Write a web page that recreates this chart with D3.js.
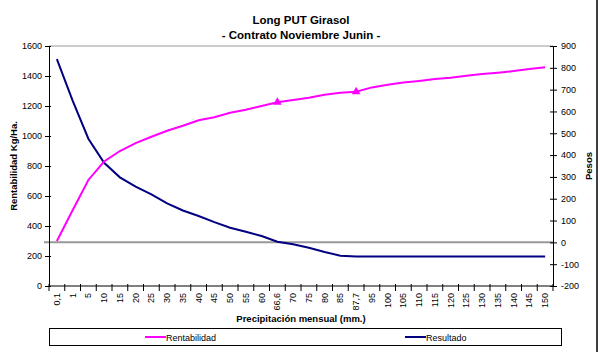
<!DOCTYPE html>
<html>
<head>
<meta charset="utf-8">
<script src="https://cdn.jsdelivr.net/npm/d3@7"></script>
<style>
  body { margin: 0; background: #fff; }
  svg text { font-family: "Liberation Sans", Arial, sans-serif; }
</style>
</head>
<body>
<div id="chart"></div>
<script>
// Chart data
var categories = ["0,1", "1", "5", "10", "15", "20", "25", "30", "35", "40", "45", "50", "55", "60",
  "66,6", "70", "75", "80", "85", "87,7", "95", "100", "105", "110", "115", "120", "125", "130",
  "135", "140", "145", "150"];
var rentabilidad = [300, 505, 707, 830, 900, 953, 995, 1035, 1068, 1105, 1125, 1155, 1175, 1200,
  1225, 1240, 1255, 1275, 1289, 1295, 1324, 1342, 1356, 1367, 1380, 1388, 1402, 1413, 1422, 1433,
  1447, 1458];
var resultado = [840, 650, 475, 365, 298, 255, 220, 179, 146, 121, 93, 67, 49, 29,
  3, -9, -25, -44, -61, -65, -65, -65, -65, -65, -65, -65, -65, -65, -65, -65, -65, -65];
var markerCats = ["66,6", "87,7"];
var leftTicks = [0, 200, 400, 600, 800, 1000, 1200, 1400, 1600];
var rightTicks = [-200, -100, 0, 100, 200, 300, 400, 500, 600, 700, 800, 900];

var svgWidth = 600;
var svgHeight = 352;

// Plot area edges
var plot = { left: 49, right: 553, top: 46, bottom: 286 };

var svg = d3.select("#chart")
  .append("svg")
  .attr("width", svgWidth)
  .attr("height", svgHeight);

// Scales
var xScale = d3.scaleBand()
  .domain(categories)
  .range([plot.left, plot.right])
  .padding(0);

var yLeft = d3.scaleLinear()
  .domain([0, 1600])
  .range([plot.bottom, plot.top]);

var yRight = d3.scaleLinear()
  .domain([-200, 900])
  .range([plot.bottom, plot.top]);

var xMid = d => xScale(d) + xScale.bandwidth() / 2;

// Titles
svg.append("text")
  .attr("x", 301).attr("y", 24)
  .attr("text-anchor", "middle")
  .attr("font-size", 11.5).attr("font-weight", "bold")
  .text("Long PUT Girasol");

svg.append("text")
  .attr("x", 301).attr("y", 39)
  .attr("text-anchor", "middle")
  .attr("font-size", 11.5).attr("font-weight", "bold")
  .text("- Contrato Noviembre Junin -");

// Grey top line of plot area
svg.append("line")
  .attr("x1", plot.left).attr("x2", plot.right)
  .attr("y1", plot.top).attr("y2", plot.top)
  .attr("stroke", "#999").attr("stroke-width", 1);

// Grey zero line of the right axis
svg.append("line")
  .attr("x1", 44).attr("x2", plot.right)
  .attr("y1", yRight(0)).attr("y2", yRight(0))
  .attr("stroke", "#999").attr("stroke-width", 2);

// Left axis
var leftAxis = d3.axisLeft(yLeft)
  .tickValues(leftTicks)
  .tickFormat(d => String(d))
  .tickSize(4)
  .tickPadding(3);

var leftG = svg.append("g")
  .attr("transform", `translate(${plot.left}, 0)`)
  .call(leftAxis);

// Right axis
var rightAxis = d3.axisRight(yRight)
  .tickValues(rightTicks)
  .tickFormat(d => String(d))
  .tickSize(4)
  .tickPadding(4);

var rightG = svg.append("g")
  .attr("transform", `translate(${plot.right}, 0)`)
  .call(rightAxis);

[leftG, rightG].forEach(function(g) {
  g.select(".domain").attr("stroke", "#000");
  g.selectAll(".tick line").attr("stroke", "#000");
  g.selectAll(".tick text")
    .attr("font-size", 9)
    .attr("font-family", "Liberation Sans, Arial, sans-serif")
    .attr("fill", "#000");
});
leftG.selectAll(".tick line").attr("x2", 2).attr("x1", -4);
rightG.selectAll(".tick line").attr("x1", -3).attr("x2", 4);

// Bottom axis: labels at centers, ticks at band boundaries
var bottomAxis = d3.axisBottom(xScale)
  .tickSize(0)
  .tickPadding(0);

var xG = svg.append("g")
  .attr("transform", `translate(0, ${plot.bottom})`)
  .call(bottomAxis);

xG.select(".domain").remove();
xG.selectAll(".tick text")
  .attr("font-size", 9)
  .attr("font-family", "Liberation Sans, Arial, sans-serif")
  .attr("fill", "#000")
  .attr("text-anchor", "end")
  .attr("transform", "rotate(-90)")
  .attr("x", -7)
  .attr("y", 0)
  .attr("dy", "0.33em");

svg.append("line")
  .attr("x1", plot.left).attr("x2", plot.right)
  .attr("y1", plot.bottom).attr("y2", plot.bottom)
  .attr("stroke", "#000");

var boundaries = categories.map(c => xScale(c)).concat([xScale.range()[1]]);
svg.selectAll(".xtick")
  .data(boundaries)
  .enter()
  .append("line")
  .attr("class", "xtick")
  .attr("x1", d => d).attr("x2", d => d)
  .attr("y1", plot.bottom - 2).attr("y2", plot.bottom + 5)
  .attr("stroke", "#000");

// Lines
var lineLeft = d3.line()
  .x((d, i) => xMid(categories[i]))
  .y(d => yLeft(d));

var lineRight = d3.line()
  .x((d, i) => xMid(categories[i]))
  .y(d => yRight(d));

svg.append("path")
  .datum(resultado)
  .attr("fill", "none")
  .attr("stroke", "#000080")
  .attr("stroke-width", 2)
  .attr("d", lineRight);

svg.append("path")
  .datum(rentabilidad)
  .attr("fill", "none")
  .attr("stroke", "#ff00ff")
  .attr("stroke-width", 2)
  .attr("d", lineLeft);

// Triangle markers
svg.selectAll(".marker")
  .data(markerCats)
  .enter()
  .append("path")
  .attr("class", "marker")
  .attr("d", d3.symbol().type(d3.symbolTriangle).size(32))
  .attr("transform", d => `translate(${xMid(d)}, ${yLeft(rentabilidad[categories.indexOf(d)])})`)
  .attr("fill", "#ff00ff");

// Axis titles
svg.append("text")
  .attr("transform", `translate(17, ${(plot.top + plot.bottom) / 2}) rotate(-90)`)
  .attr("text-anchor", "middle")
  .attr("font-size", 9.5).attr("font-weight", "bold")
  .text("Rentabilidad Kg/Ha.");

svg.append("text")
  .attr("transform", `translate(592, ${(plot.top + plot.bottom) / 2}) rotate(-90)`)
  .attr("text-anchor", "middle")
  .attr("font-size", 9.5).attr("font-weight", "bold")
  .text("Pesos");

svg.append("text")
  .attr("x", 301).attr("y", 322)
  .attr("text-anchor", "middle")
  .attr("font-size", 9.5).attr("font-weight", "bold")
  .text("Precipitación mensual (mm.)");

// Legend
var legend = svg.append("g");
legend.append("rect")
  .attr("x", 49.5).attr("y", 328.5)
  .attr("width", 512).attr("height", 17)
  .attr("fill", "none").attr("stroke", "#000");

var legendItems = [
  { name: "Rentabilidad", color: "#ff00ff", x: 145 },
  { name: "Resultado", color: "#000080", x: 405 }
];
legendItems.forEach(function(item) {
  legend.append("line")
    .attr("x1", item.x).attr("x2", item.x + 21)
    .attr("y1", 337).attr("y2", 337)
    .attr("stroke", item.color).attr("stroke-width", 2);
  legend.append("text")
    .attr("x", item.x + 21).attr("y", 340.5)
    .attr("font-size", 9)
    .text(item.name);
});

// Chart border on the right
svg.append("line")
  .attr("x1", 597).attr("x2", 597)
  .attr("y1", 0).attr("y2", svgHeight)
  .attr("stroke", "#000").attr("stroke-width", 1.5);
</script>
</body>
</html>
